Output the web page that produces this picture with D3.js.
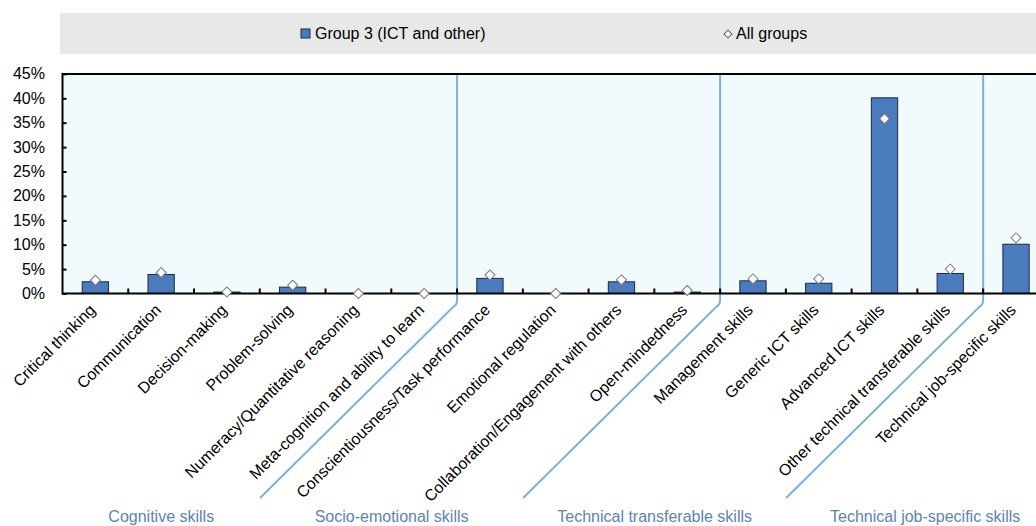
<!DOCTYPE html>
<html>
  <head>
    <meta charset="utf-8">
    <script src="https://cdn.jsdelivr.net/npm/d3@7"></script>
    <style>
      body { margin: 0; background: #ffffff; }
      text { font-family: "Liberation Sans", Arial, sans-serif; }
    </style>
  </head>
  <body>
    <script>

      // data (percent)
      var categories = [
        "Critical thinking", "Communication", "Decision-making", "Problem-solving",
        "Numeracy/Quantitative reasoning", "Meta-cognition and ability to learn",
        "Conscientiousness/Task performance", "Emotional regulation",
        "Collaboration/Engagement with others", "Open-mindedness",
        "Management skills", "Generic ICT skills", "Advanced ICT skills",
        "Other technical transferable skills", "Technical job-specific skills"
      ];
      var group3 = [2.4, 3.9, 0.3, 1.3, 0, 0, 3.1, 0, 2.4, 0.3, 2.6, 2.1, 40.1, 4.1, 10.1];
      var allGroups = [2.7, 4.3, 0.3, 1.7, 0, 0, 3.8, 0, 2.8, 0.6, 3.0, 3.0, 35.8, 5.0, 11.4];
      var yTicks = [0, 5, 10, 15, 20, 25, 30, 35, 40, 45];
      var groupNames = ["Cognitive skills", "Socio-emotional skills",
                        "Technical transferable skills", "Technical job-specific skills"];
      var groupBreaks = [6, 10, 14];   // index where a new skill group starts
      var seriesNames = ["Group 3 (ICT and other)", "All groups"];

      chart();

      function chart() {

      var W = 1036, H = 526;
      var plotLeft = 62.5, plotTop = 73.9, plotBottom = 293.5;
      var step = 65.76;

      var svg = d3.select("body").append("svg")
          .attr("width", W)
          .attr("height", H);

      var x = d3.scaleBand()
          .domain(categories)
          .range([plotLeft, plotLeft + step * categories.length])
          .paddingInner(0.6)
          .paddingOuter(0.3);

      var y = d3.scaleLinear()
          .domain([0, 45])
          .range([plotBottom, plotTop]);

      // boundary between bands
      function edge(i) { return x.range()[0] + i * x.step(); }

      // legend band
      svg.append("rect")
          .attr("x", 60).attr("y", 13)
          .attr("width", W - 60).attr("height", 41)
          .attr("fill", "#e8e8e8");

      svg.append("rect")
          .attr("x", 301).attr("y", 29)
          .attr("width", 9).attr("height", 9)
          .attr("fill", "#4a7cbd")
          .attr("stroke", "#1c2a44")
          .attr("stroke-width", 1);
      svg.append("text")
          .attr("x", 315).attr("y", 39)
          .style("font-size", "16px")
          .attr("fill", "#000")
          .text(seriesNames[0]);

      svg.append("path")
          .attr("d", d3.symbol(d3.symbolSquare, 30)())
          .attr("transform", "translate(728,34) rotate(45)")
          .attr("fill", "#fff")
          .attr("stroke", "#555")
          .attr("stroke-width", 1);
      svg.append("text")
          .attr("x", 736).attr("y", 39)
          .style("font-size", "16px")
          .attr("fill", "#000")
          .text(seriesNames[1]);

      // plot background
      svg.append("rect")
          .attr("x", plotLeft).attr("y", plotTop)
          .attr("width", W - plotLeft).attr("height", plotBottom - plotTop)
          .attr("fill", "#f1fafd");

      // bars
      svg.selectAll(".bar")
          .data(group3)
          .enter()
          .append("rect")
          .attr("class", "bar")
          .attr("x", function(d, i) { return x(categories[i]); })
          .attr("width", x.bandwidth())
          .attr("y", function(d) { return y(d); })
          .attr("height", function(d) { return plotBottom - y(d); })
          .attr("fill", "#4a7cbd")
          .attr("stroke", "#1c2a44")
          .attr("stroke-width", 1);

      // group dividers (vertical, then diagonal down-left)
      svg.selectAll(".divider")
          .data(groupBreaks)
          .enter()
          .append("path")
          .attr("class", "divider")
          .attr("d", function(b) {
            var bx = edge(b);
            return "M" + bx + "," + plotTop + "L" + bx + "," + 300 +
                   "Q" + bx + "," + 305 + " " + (bx - 4) + "," + 307 +
                   "L" + (bx - 197) + "," + 498;
          })
          .attr("fill", "none")
          .attr("stroke", "#7fb0d9")
          .attr("stroke-width", 2);

      // y axis ticks (pointing inward)
      svg.append("g")
          .attr("transform", "translate(" + plotLeft + ",0)")
          .call(d3.axisRight(y).tickValues(yTicks).tickSize(4).tickFormat(""))
          .call(function(g) { g.select(".domain").remove(); })
          .selectAll("line")
          .attr("stroke", "#000")
          .attr("stroke-width", 2);

      svg.selectAll(".ylab")
          .data(yTicks)
          .enter()
          .append("text")
          .attr("class", "ylab")
          .attr("x", 45)
          .attr("y", function(d) { return y(d) + 5.5; })
          .attr("text-anchor", "end")
          .style("font-size", "16px")
          .attr("fill", "#000")
          .text(function(d) { return d + "%"; });

      // x axis ticks at band edges
      svg.selectAll(".xtick")
          .data(d3.range(1, categories.length))
          .enter()
          .append("line")
          .attr("class", "xtick")
          .attr("x1", function(i) { return edge(i); })
          .attr("x2", function(i) { return edge(i); })
          .attr("y1", plotBottom)
          .attr("y2", plotBottom - 5)
          .attr("stroke", "#000")
          .attr("stroke-width", 2);

      // frame lines
      svg.append("line")
          .attr("x1", plotLeft).attr("x2", W)
          .attr("y1", plotTop).attr("y2", plotTop)
          .attr("stroke", "#000").attr("stroke-width", 2);
      svg.append("line")
          .attr("x1", plotLeft).attr("x2", plotLeft)
          .attr("y1", plotTop - 1).attr("y2", plotBottom + 1)
          .attr("stroke", "#000").attr("stroke-width", 2);
      svg.append("line")
          .attr("x1", plotLeft).attr("x2", W)
          .attr("y1", plotBottom).attr("y2", plotBottom)
          .attr("stroke", "#000").attr("stroke-width", 2);

      // all-groups markers
      svg.selectAll(".marker")
          .data(allGroups)
          .enter()
          .append("path")
          .attr("class", "marker")
          .attr("d", d3.symbol(d3.symbolSquare, 50)())
          .attr("transform", function(d, i) {
            return "translate(" + (x(categories[i]) + x.bandwidth() / 2) + "," + y(d) + ") rotate(45)";
          })
          .attr("fill", "#fff")
          .attr("stroke", "#7a7a7a")
          .attr("stroke-width", 1);

      // category labels
      svg.selectAll(".xlab")
          .data(categories)
          .enter()
          .append("text")
          .attr("class", "xlab")
          .attr("text-anchor", "end")
          .attr("transform", function(d) {
            var cx = x(d) + x.bandwidth() / 2 + 1;
            return "translate(" + cx + "," + 311 + ") rotate(-45)";
          })
          .style("font-size", "16px")
          .attr("fill", "#000")
          .text(function(d) { return d; });

      // skill group labels, centred between the diagonal ends
      var ends = [plotLeft].concat(groupBreaks.map(function(b) { return edge(b) - 197; }));
      ends.push(ends[ends.length - 1] + 278);
      svg.selectAll(".glab")
          .data(groupNames)
          .enter()
          .append("text")
          .attr("class", "glab")
          .attr("x", function(d, i) { return (ends[i] + ends[i + 1]) / 2; })
          .attr("y", 522)
          .attr("text-anchor", "middle")
          .style("font-size", "16px")
          .attr("fill", "#5b84b1")
          .text(function(d) { return d; });

      }

    </script>
  </body>
</html>
